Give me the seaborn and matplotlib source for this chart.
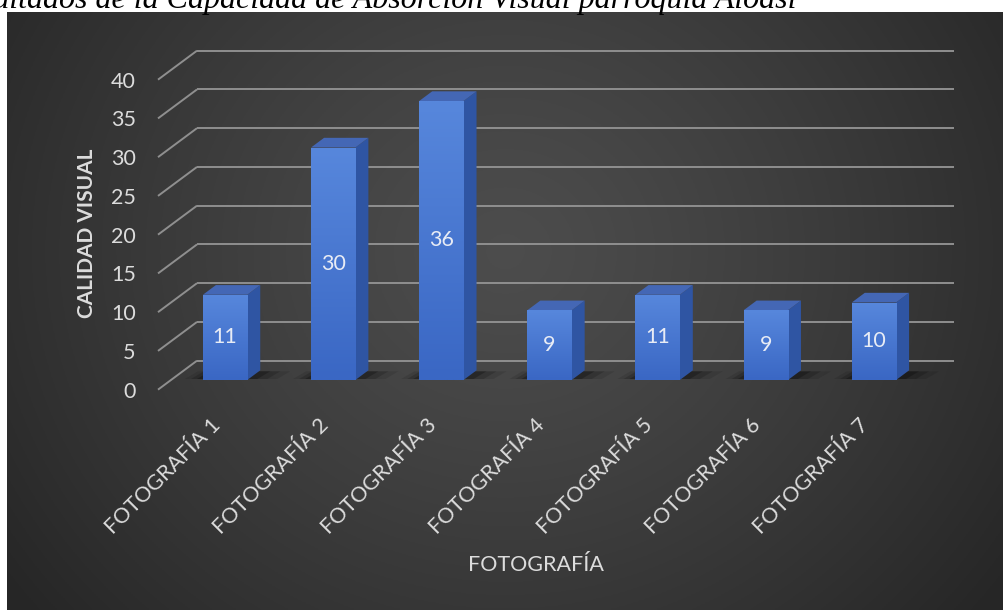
import numpy as np
import pandas as pd
import matplotlib
matplotlib.use("Agg")
import matplotlib.pyplot as plt
import seaborn as sns
from matplotlib.patches import Polygon
from matplotlib.transforms import ScaledTranslation
from matplotlib.colors import LinearSegmentedColormap

# ---------------- data ----------------
categories = ["FOTOGRAFÍA 1", "FOTOGRAFÍA 2", "FOTOGRAFÍA 3", "FOTOGRAFÍA 4",
              "FOTOGRAFÍA 5", "FOTOGRAFÍA 6", "FOTOGRAFÍA 7"]
values = [11, 30, 36, 9, 11, 9, 10]
y_ticks = [0, 5, 10, 15, 20, 25, 30, 35, 40]
x_label = "FOTOGRAFÍA"
y_label = "CALIDAD VISUAL"
title_text = "Resultados de la Capacidad de Absorción Visual parroquia Aloasí"

# ---------------- style ----------------
FONT = ["Lato", "DejaVu Sans"]
plt.rcParams["font.family"] = FONT
TXT = "#dcdcdc"
GRID = "#8f8f8f"
FRONT_TOP = "#5787dc"
FRONT_BOT = "#3a67c4"
SIDE = "#2f55a3"
TOP = "#4467b5"

W, H = 1004, 610
DPI = 100
fig = plt.figure(figsize=(W / DPI, H / DPI), dpi=DPI)
fig.patch.set_facecolor("white")

# background panel with radial gradient
bg = fig.add_axes([7 / W, 0, (W - 7) / W, (H - 12) / H])
gx = np.linspace(0, 1, 500)
gy = np.linspace(0, 1, 300)
GX, GY = np.meshgrid(gx, gy)
r = np.sqrt(((GX - 0.5) / 0.62) ** 2 + ((GY - 0.40) / 0.95) ** 2)
r = np.clip(r, 0, 1)
lum = 0.300 - 0.150 * r ** 1.25
img = np.dstack([lum, lum, lum])
bg.imshow(img, aspect="auto", extent=[0, 1, 0, 1], origin="upper")
bg.set_axis_off()
bg.set_zorder(0)

# cut-off title on white strip
fig.text(797 / W, (H - 8) / H, title_text, ha="right", va="baseline",
         fontsize=23, style="italic", family=["Liberation Serif", "DejaVu Serif"],
         color="black", zorder=1)

# main axes = plane of bar front faces
AX_L, AX_R, AX_B, AX_T = 171, 928, 380, 70
ax = fig.add_axes([AX_L / W, (H - AX_B) / H, (AX_R - AX_L) / W, (AX_B - AX_T) / H])
ax.set_zorder(2)
ax.patch.set_alpha(0)

df = pd.DataFrame({"cat": categories, "val": values})
sns.barplot(data=df, x="cat", y="val", ax=ax, width=0.41, color=FRONT_BOT,
            saturation=1, zorder=3, errorbar=None)
ax.set_xlim(-0.5, len(categories) - 0.5)
ax.set_ylim(0, 40)
for s in ax.spines.values():
    s.set_visible(False)

# depth geometry in pixels (x right, y up)
DEPTH = np.array([39.0, 29.0])
BACK = DEPTH * 2 / 3
FRONT = -DEPTH / 3
BAR_D = DEPTH / 3

inv = ax.transData.inverted()


def to_data(px_pts):
    return inv.transform(np.asarray(px_pts))


def px(x, y):
    return ax.transData.transform((x, y))


x_lo, x_hi = ax.get_xlim()
# gridlines on back wall + diagonal on side wall
for yv in y_ticks:
    pl = px(x_lo, yv)
    pr = px(x_hi, yv)
    back = to_data([pl + BACK, pr + BACK])
    ax.plot(back[:, 0], back[:, 1], color=GRID, lw=1.4, zorder=1, clip_on=False,
            solid_capstyle="butt")
    diag = to_data([pl + FRONT, pl + BACK])
    ax.plot(diag[:, 0], diag[:, 1], color=GRID, lw=1.4, zorder=1, clip_on=False,
            solid_capstyle="butt")

# 3D bar faces, shadows and gradients
cmap = LinearSegmentedColormap.from_list("bar", [FRONT_BOT, FRONT_TOP])
grad = np.linspace(0, 1, 100).reshape(-1, 1)
bars = list(ax.patches)
for bar in bars:
    x0, y0 = bar.get_x(), bar.get_y()
    w, h = bar.get_width(), bar.get_height()
    bl = px(x0, y0)
    br = px(x0 + w, y0)
    tl = px(x0, y0 + h)
    tr = px(x0 + w, y0 + h)
    # floor shadow (soft, layered)
    for ext, a in [(30, 0.10), (20, 0.16), (10, 0.24)]:
        sh = to_data([bl + [-ext * 0.6, 1], br + [ext, 1],
                      br + BAR_D + [ext, -1], bl + BAR_D + [-ext * 0.6, -1]])
        ax.add_patch(Polygon(sh, closed=True, facecolor="black", alpha=a,
                             edgecolor="none", zorder=2, clip_on=False))
    side = to_data([br, tr, tr + BAR_D, br + BAR_D])
    ax.add_patch(Polygon(side, closed=True, facecolor=SIDE, edgecolor="none",
                         zorder=3, clip_on=False))
    top = to_data([tl, tr, tr + BAR_D, tl + BAR_D])
    ax.add_patch(Polygon(top, closed=True, facecolor=TOP, edgecolor="none",
                         zorder=3, clip_on=False))
    im = ax.imshow(grad, extent=[x0, x0 + w, y0, y0 + h], aspect="auto",
                   cmap=cmap, origin="lower", zorder=3.5, interpolation="bilinear")
    im.set_clip_path(bar)

ax.set_xlim(x_lo, x_hi)
ax.set_ylim(0, 40)

# value labels
for cont in ax.containers:
    labs = ax.bar_label(cont, label_type="center", color="#e8ecf5", fontsize=15.5)
    for t in labs:
        t.set_zorder(6)

# y ticks
ax.set_yticks(y_ticks)
ax.set_yticklabels([str(v) for v in y_ticks])
ax.tick_params(axis="y", length=0, pad=16, labelsize=15.5, labelcolor=TXT)
shift_y = ScaledTranslation(FRONT[0] / DPI, FRONT[1] / DPI, fig.dpi_scale_trans)
for lab in ax.get_yticklabels():
    lab.set_transform(lab.get_transform() + shift_y)

# x ticks
ax.set_xticks(range(len(categories)))
ax.set_xticklabels(categories, rotation=45, ha="right", va="center",
                   rotation_mode="anchor")
ax.tick_params(axis="x", length=0, pad=30, labelsize=15.5, labelcolor=TXT)
shift_x = ScaledTranslation((FRONT[0] + 5) / DPI, 0, fig.dpi_scale_trans)
for lab in ax.get_xticklabels():
    lab.set_transform(lab.get_transform() + shift_x)

ax.set_xlabel(x_label, fontsize=15.5, color=TXT, va="center", ha="center")
ax.xaxis.set_label_coords((536 - AX_L) / (AX_R - AX_L), (AX_B - 565) / (AX_B - AX_T))
ax.set_ylabel(y_label, fontsize=15, color=TXT, fontweight="bold", va="center",
              ha="center")
ax.yaxis.set_label_coords((87 - AX_L) / (AX_R - AX_L), (AX_B - 233) / (AX_B - AX_T))

fig.savefig("out.png", dpi=DPI)
